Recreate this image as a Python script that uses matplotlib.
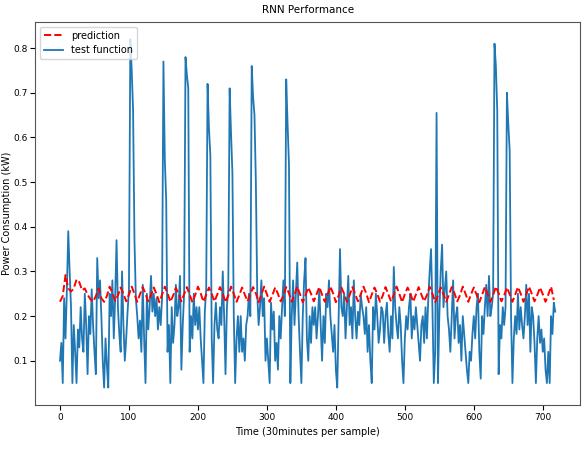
import matplotlib.pyplot as plt
import numpy as np

# test function, one value every 2 samples
test_step = 2
test_values = [
    0.10, 0.14, 0.05, 0.24, 0.15, 0.26, 0.39, 0.30, 0.22, 0.05, 0.18, 0.12, 0.05, 0.17, 0.13,
    0.22, 0.15, 0.12, 0.25, 0.18, 0.07, 0.20, 0.16, 0.26, 0.18, 0.12, 0.07, 0.33, 0.24, 0.28,
    0.20, 0.10, 0.04, 0.15, 0.09, 0.04, 0.25, 0.20, 0.28, 0.15, 0.24, 0.37, 0.22, 0.16, 0.12,
    0.30, 0.18, 0.10, 0.15, 0.21, 0.26, 0.82, 0.75, 0.66, 0.37, 0.24, 0.20, 0.15, 0.19, 0.12,
    0.27, 0.15, 0.05, 0.25, 0.17, 0.22, 0.29, 0.21, 0.25, 0.20, 0.24, 0.17, 0.22, 0.18, 0.24,
    0.77, 0.55, 0.46, 0.12, 0.18, 0.05, 0.22, 0.14, 0.18, 0.27, 0.20, 0.22, 0.29, 0.08, 0.18,
    0.25, 0.78, 0.74, 0.71, 0.12, 0.20, 0.15, 0.25, 0.18, 0.22, 0.17, 0.22, 0.15, 0.10, 0.05,
    0.21, 0.26, 0.72, 0.62, 0.56, 0.15, 0.05, 0.18, 0.23, 0.17, 0.15, 0.22, 0.18, 0.30, 0.20,
    0.07, 0.22, 0.26, 0.71, 0.61, 0.52, 0.20, 0.05, 0.15, 0.20, 0.12, 0.20, 0.12, 0.15, 0.10,
    0.18, 0.20, 0.25, 0.20, 0.76, 0.69, 0.65, 0.50, 0.25, 0.18, 0.22, 0.28, 0.20, 0.24, 0.10,
    0.15, 0.10, 0.05, 0.23, 0.17, 0.21, 0.10, 0.14, 0.08, 0.20, 0.15, 0.22, 0.28, 0.20, 0.73,
    0.63, 0.54, 0.05, 0.20, 0.28, 0.18, 0.25, 0.32, 0.20, 0.12, 0.05, 0.20, 0.28, 0.33, 0.15,
    0.10, 0.20, 0.14, 0.22, 0.18, 0.22, 0.15, 0.20, 0.26, 0.18, 0.10, 0.20, 0.14, 0.25, 0.22,
    0.28, 0.20, 0.16, 0.12, 0.18, 0.08, 0.04, 0.20, 0.35, 0.22, 0.20, 0.25, 0.15, 0.22, 0.29,
    0.18, 0.22, 0.15, 0.28, 0.20, 0.15, 0.21, 0.18, 0.25, 0.22, 0.20, 0.16, 0.22, 0.12, 0.18,
    0.10, 0.05, 0.22, 0.17, 0.25, 0.20, 0.14, 0.17, 0.22, 0.21, 0.14, 0.20, 0.23, 0.16, 0.12,
    0.20, 0.15, 0.31, 0.22, 0.18, 0.15, 0.22, 0.18, 0.10, 0.05, 0.15, 0.20, 0.17, 0.22, 0.25,
    0.15, 0.20, 0.17, 0.22, 0.18, 0.14, 0.10, 0.18, 0.20, 0.14, 0.22, 0.15, 0.24, 0.30, 0.35,
    0.22, 0.05, 0.12, 0.655, 0.05, 0.20, 0.30, 0.36, 0.22, 0.26, 0.30, 0.20, 0.17, 0.12, 0.20,
    0.28, 0.15, 0.20, 0.22, 0.14, 0.18, 0.10, 0.20, 0.16, 0.12, 0.08, 0.05, 0.12, 0.10, 0.16,
    0.20, 0.15, 0.22, 0.25, 0.12, 0.06, 0.20, 0.16, 0.22, 0.27, 0.20, 0.29, 0.20, 0.22, 0.25,
    0.81, 0.76, 0.66, 0.07, 0.18, 0.15, 0.22, 0.18, 0.22, 0.70, 0.63, 0.57, 0.20, 0.05, 0.15,
    0.20, 0.16, 0.25, 0.17, 0.22, 0.18, 0.15, 0.20, 0.27, 0.18, 0.25, 0.12, 0.22, 0.20, 0.14,
    0.05, 0.15, 0.20, 0.14, 0.17, 0.12, 0.15, 0.08, 0.05, 0.12, 0.05, 0.20, 0.16, 0.23, 0.21,
]

# prediction, one value every 4 samples
pred_step = 4
pred_values = [
    0.232, 0.245, 0.292, 0.262, 0.255, 0.262, 0.282, 0.276, 0.258, 0.262,
    0.248, 0.238, 0.232, 0.245, 0.262, 0.240, 0.232, 0.245, 0.266, 0.252,
    0.234, 0.246, 0.264, 0.250, 0.233, 0.248, 0.266, 0.250, 0.232, 0.249,
    0.265, 0.250, 0.233, 0.247, 0.264, 0.249, 0.231, 0.248,
    0.266, 0.251, 0.232, 0.246, 0.263, 0.250, 0.233, 0.249,
    0.265, 0.248, 0.231, 0.247, 0.266, 0.251, 0.232, 0.248,
    0.264, 0.249, 0.233, 0.248, 0.265, 0.250, 0.231, 0.246,
    0.266, 0.250, 0.232, 0.247, 0.264, 0.248, 0.233, 0.249,
    0.265, 0.251, 0.231, 0.248, 0.266, 0.249, 0.232, 0.247,
    0.264, 0.250, 0.233, 0.246, 0.265, 0.251, 0.232, 0.248,
    0.266, 0.249, 0.231, 0.247, 0.264, 0.250, 0.233, 0.249,
    0.265, 0.248, 0.232, 0.248, 0.266, 0.251, 0.231, 0.246,
    0.264, 0.250, 0.232, 0.247, 0.265, 0.249, 0.233, 0.248,
    0.266, 0.251, 0.231, 0.248, 0.264, 0.250, 0.232, 0.246,
    0.265, 0.249, 0.233, 0.247, 0.266, 0.250, 0.231, 0.249,
    0.264, 0.251, 0.232, 0.248, 0.265, 0.248, 0.233, 0.247,
    0.266, 0.250, 0.231, 0.246, 0.264, 0.249, 0.232, 0.248,
    0.265, 0.251, 0.233, 0.247, 0.266, 0.250, 0.232, 0.249,
    0.264, 0.248, 0.231, 0.248, 0.265, 0.250, 0.232, 0.247,
    0.266, 0.251, 0.233, 0.246, 0.264, 0.249, 0.232, 0.248,
    0.265, 0.250, 0.232, 0.248, 0.266, 0.250, 0.233, 0.247,
    0.264, 0.249, 0.232, 0.248, 0.266, 0.236,
]

test_x = np.arange(len(test_values)) * test_step
pred_x = np.arange(len(pred_values)) * pred_step

plt.rcParams['font.family'] = ['DejaVu Sans']
fig = plt.figure(figsize=(5.87, 4.54), dpi=100)
ax = fig.add_axes([0.060, 0.108, 0.928, 0.844])

ax.plot(pred_x, pred_values, 'r--', linewidth=1.4, label='prediction', zorder=3)
ax.plot(test_x, test_values, color='#1f77b4', linewidth=1.3, label='test function', zorder=2)

ax.set_title('RNN Performance', fontsize=7.5)
ax.set_xlabel('Time (30minutes per sample)', fontsize=7)
ax.set_ylabel('Power Consumption (kW)', fontsize=7)
ax.yaxis.set_label_coords(-0.043, 0.5)
ax.set_xticks([0, 100, 200, 300, 400, 500, 600, 700])
ax.set_yticks([0.1, 0.2, 0.3, 0.4, 0.5, 0.6, 0.7, 0.8])
ax.tick_params(labelsize=6.5, pad=2)
ax.legend(loc='upper left', fontsize=7)

for s in ax.spines.values():
    s.set_color('#555555')

fig.savefig('out.png', dpi=100)
